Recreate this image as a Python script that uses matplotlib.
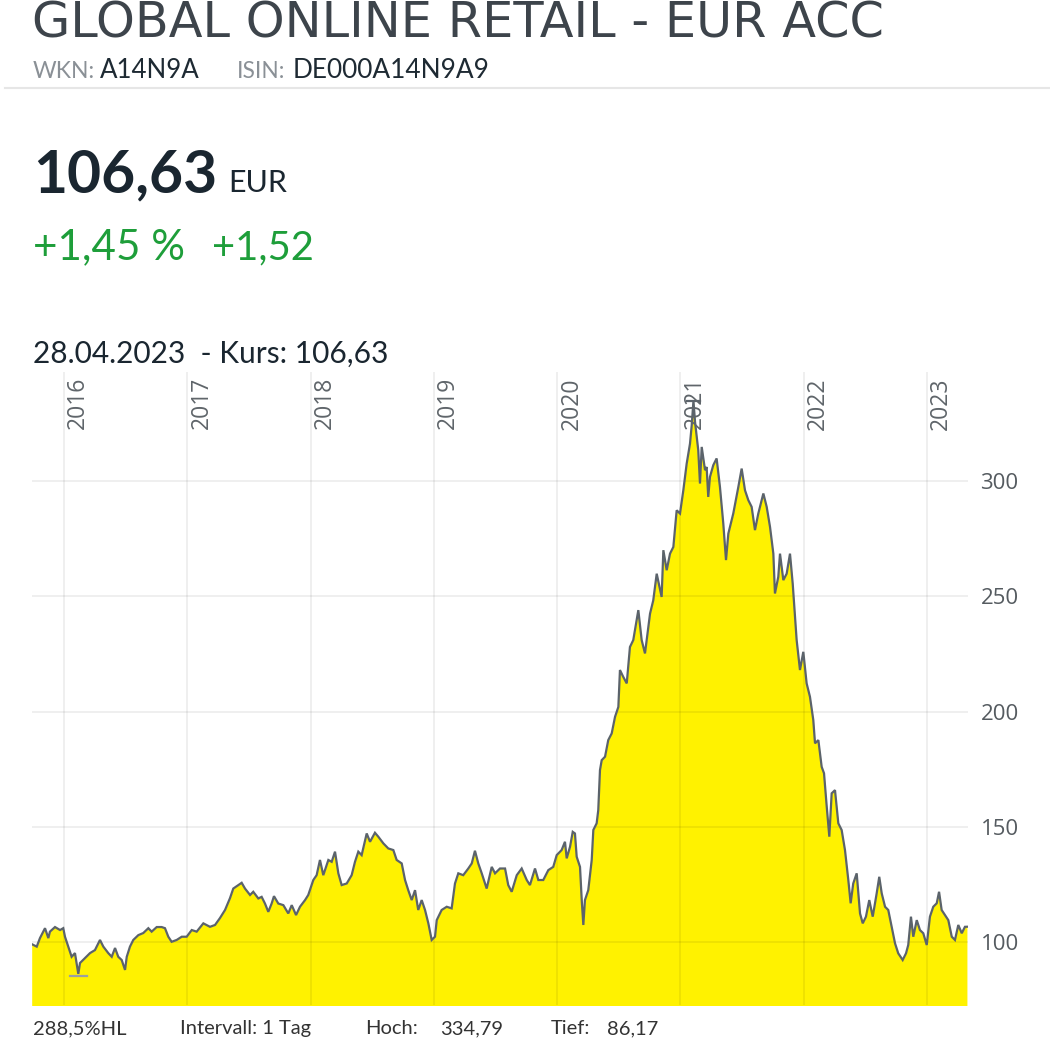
import matplotlib
matplotlib.use("Agg")
import matplotlib.pyplot as plt
from matplotlib.transforms import blended_transform_factory
import numpy as np

# ---------------- data (decimal year, price in EUR) ----------------
years = [
    2015.738, 2015.779, 2015.805, 2015.846, 2015.873, 2015.886, 2015.927, 2015.968, 2015.994,
    2016.008, 2016.035, 2016.062, 2016.089, 2016.116, 2016.130, 2016.170, 2016.211, 2016.251,
    2016.292, 2016.319, 2016.359, 2016.387, 2016.414, 2016.440, 2016.468, 2016.495, 2016.509,
    2016.535, 2016.562, 2016.603, 2016.643, 2016.684, 2016.711, 2016.752, 2016.792, 2016.819,
    2016.846, 2016.873, 2016.914, 2016.955, 2016.995, 2017.036, 2017.076, 2017.130, 2017.184,
    2017.225, 2017.265, 2017.306, 2017.346, 2017.373, 2017.414, 2017.441, 2017.468, 2017.509,
    2017.535, 2017.576, 2017.603, 2017.630, 2017.657, 2017.684, 2017.703, 2017.738, 2017.779,
    2017.819, 2017.847, 2017.882, 2017.914, 2017.955, 2017.981, 2018.022, 2018.049, 2018.076,
    2018.103, 2018.144, 2018.171, 2018.198, 2018.225, 2018.252, 2018.293, 2018.333, 2018.360,
    2018.387, 2018.414, 2018.455, 2018.482, 2018.522, 2018.549, 2018.590, 2018.630, 2018.671,
    2018.698, 2018.739, 2018.766, 2018.792, 2018.820, 2018.847, 2018.873, 2018.901, 2018.928,
    2018.955, 2018.982, 2019.009, 2019.023, 2019.063, 2019.104, 2019.144, 2019.171, 2019.198,
    2019.238, 2019.279, 2019.307, 2019.333, 2019.360, 2019.388, 2019.428, 2019.469, 2019.496,
    2019.536, 2019.577, 2019.603, 2019.631, 2019.672, 2019.712, 2019.753, 2019.779, 2019.820,
    2019.847, 2019.887, 2019.928, 2019.968, 2019.996, 2020.036, 2020.063, 2020.077, 2020.104,
    2020.126, 2020.144, 2020.158, 2020.185, 2020.199, 2020.212, 2020.225, 2020.252, 2020.280,
    2020.293, 2020.320, 2020.333, 2020.347, 2020.361, 2020.388, 2020.414, 2020.442, 2020.469,
    2020.496, 2020.509, 2020.536, 2020.564, 2020.590, 2020.617, 2020.658, 2020.685, 2020.712,
    2020.753, 2020.779, 2020.807, 2020.847, 2020.861, 2020.888, 2020.915, 2020.942, 2020.969,
    2020.996, 2021.023, 2021.050, 2021.077, 2021.091, 2021.105, 2021.118, 2021.144, 2021.158,
    2021.172, 2021.199, 2021.212, 2021.225, 2021.239, 2021.266, 2021.293, 2021.320, 2021.347,
    2021.369, 2021.388, 2021.428, 2021.469, 2021.496, 2021.523, 2021.550, 2021.577, 2021.604,
    2021.631, 2021.672, 2021.699, 2021.726, 2021.753, 2021.766, 2021.793, 2021.807, 2021.834,
    2021.861, 2021.888, 2021.910, 2021.929, 2021.942, 2021.969, 2021.996, 2022.023, 2022.050,
    2022.077, 2022.091, 2022.118, 2022.145, 2022.164, 2022.186, 2022.207, 2022.226, 2022.253,
    2022.280, 2022.307, 2022.334, 2022.361, 2022.380, 2022.401, 2022.429, 2022.456, 2022.478,
    2022.504, 2022.531, 2022.559, 2022.591, 2022.612, 2022.632, 2022.659, 2022.685, 2022.713,
    2022.740, 2022.766, 2022.802, 2022.829, 2022.847, 2022.869, 2022.888, 2022.916, 2022.942,
    2022.969, 2022.997, 2023.023, 2023.050, 2023.078, 2023.097, 2023.118, 2023.145, 2023.172,
    2023.200, 2023.226, 2023.253, 2023.281, 2023.307, 2023.323,
]
prices = [
    99.1, 98.0, 101.7, 106.0, 101.7, 104.5, 106.5, 105.2, 106.0,
    102.3, 98.0, 93.6, 95.2, 86.17, 90.9, 93.0, 95.2, 96.5,
    100.9, 98.0, 95.2, 93.6, 97.4, 93.6, 92.2, 87.9, 93.6,
    98.0, 100.9, 103.0, 103.9, 106.0, 104.5, 106.5, 106.5, 106.0,
    102.3, 100.1, 100.9, 102.3, 102.3, 105.2, 104.5, 108.1, 106.6,
    107.4, 110.4, 113.9, 119.0, 123.2, 124.7, 125.7, 123.2, 120.4,
    121.8, 118.9, 119.6, 116.7, 113.1, 116.7, 119.9, 116.7, 116.0,
    112.4, 116.0, 111.7, 115.3, 118.2, 120.4, 126.9, 129.0, 135.6,
    129.0, 135.6, 134.8, 139.2, 129.8, 124.7, 125.4, 129.0, 134.8,
    139.2, 137.7, 147.1, 143.5, 147.4, 145.7, 142.8, 140.6, 139.9,
    135.6, 134.1, 126.9, 122.5, 118.2, 122.5, 113.9, 118.2, 113.9,
    108.1, 100.9, 102.3, 109.5, 113.9, 115.3, 114.6, 125.4, 129.8,
    129.0, 131.9, 134.1, 139.6, 134.1, 129.8, 123.2, 132.6, 129.8,
    131.9, 131.9, 124.7, 121.8, 129.0, 131.9, 126.9, 124.7, 131.9,
    126.9, 126.9, 131.2, 132.6, 137.7, 139.9, 143.5, 136.3, 141.3,
    147.8, 147.1, 137.0, 132.6, 118.2, 107.4, 118.2, 122.5, 135.6,
    148.6, 151.5, 157.2, 174.6, 178.9, 180.4, 187.6, 190.5, 197.7,
    202.0, 218.0, 215.0, 212.2, 228.0, 231.0, 244.0, 231.0, 225.2,
    242.5, 248.2, 259.8, 249.7, 270.0, 261.3, 268.5, 271.4, 287.3,
    285.9, 296.0, 307.5, 316.2, 324.2, 334.79, 325.6, 313.4, 298.9,
    314.8, 304.7, 306.1, 293.1, 301.8, 306.9, 309.8, 297.4, 281.6,
    265.7, 277.2, 285.9, 297.4, 305.4, 296.0, 291.7, 288.8, 278.7,
    285.9, 294.6, 288.8, 280.1, 268.5, 251.2, 258.4, 268.5, 257.0,
    259.8, 268.5, 255.5, 241.0, 231.0, 218.0, 225.9, 212.2, 206.4,
    196.3, 186.2, 187.6, 176.0, 173.2, 158.7, 145.7, 164.5, 165.9,
    151.5, 148.6, 139.9, 126.9, 116.8, 125.4, 129.8, 112.4, 108.1,
    111.0, 118.2, 111.0, 121.1, 128.3, 121.1, 115.3, 113.9, 106.6,
    99.4, 95.1, 92.2, 95.1, 98.7, 111.0, 102.3, 109.5, 105.2,
    103.8, 98.7, 111.0, 115.3, 116.8, 121.8, 113.9, 111.7, 109.5,
    102.3, 100.9, 107.4, 103.8, 106.6, 106.63,
]
year_ticks = [2016, 2017, 2018, 2019, 2020, 2021, 2022, 2023]
value_ticks = [100, 150, 200, 250, 300]

title = "GLOBAL ONLINE RETAIL - EUR ACC"
wkn = "A14N9A"
isin = "DE000A14N9A9"
last_price = "106,63"
change_pct = "+1,45 %"
change_abs = "+1,52"
date_line = "28.04.2023  - Kurs: 106,63"
hl_text = "288,5%HL"
interval_text = "Intervall: 1 Tag"
high_text = "334,79"
low_text = "86,17"

# ---------------- figure ----------------
W, H = 1050, 1050
fig = plt.figure(figsize=(W / 100, H / 100), dpi=100)
fig.patch.set_facecolor("white")
renderer = fig.canvas.get_renderer()

def put(x, y, s, size, color, target_w=None, family="Lato", weight="normal", va="baseline"):
    t = fig.text(x / W, 1 - y / H, s, fontsize=size, color=color, family=family,
                 fontweight=weight, va=va, ha="left")
    if target_w:
        w = t.get_window_extent(renderer=renderer).width
        t.set_fontsize(size * target_w / w)
    return t

# header
put(32, 38, title, 30, "#3d444b", target_w=852, family="DejaVu Sans", weight="normal")
put(33, 78, "WKN:", 14, "#8a9096", target_w=62)
put(100, 78, wkn, 14, "#1e2a33", target_w=100)
put(237, 78, "ISIN:", 14, "#8a9096", target_w=48)
put(293, 78, isin, 14, "#1e2a33", target_w=198)
fig.add_artist(plt.Line2D([5 / W, 1.0], [1 - 88 / H, 1 - 88 / H], color="#e6e6e6", lw=1.5))

put(33, 192, last_price, 40, "#1a2630", target_w=184, weight="bold")
put(228, 192, "EUR", 18, "#1a2630", target_w=59)
put(33, 259, change_pct, 26, "#1e9e3a", target_w=152)
put(212, 259, change_abs, 26, "#1e9e3a", target_w=102)

put(33, 363, date_line, 17, "#1a2630", target_w=357)

# bottom stats
bs = 14.5
put(33, 1034, hl_text, bs, "#333333")
put(180, 1034, interval_text, bs, "#333333")
put(365, 1034, "Hoch:", bs, "#333333")
put(440, 1034, high_text, bs, "#333333")
put(551, 1034, "Tief:", bs, "#333333")
put(607, 1034, low_text, bs, "#333333")

# ---------------- chart ----------------
x0, x1, ytop, ybot = 32, 968, 372, 1005
ax = fig.add_axes([x0 / W, 1 - ybot / H, (x1 - x0) / W, (ybot - ytop) / H])
ax.set_facecolor("white")
ax.set_xlim(2015.7405, 2023.3317)
ax.set_ylim(72.68, 347.3)

ax.fill_between(years, prices, 0, color="#fff200", lw=0, zorder=1)
ax.plot(years, prices, color="#5b636b", lw=1.6, zorder=3, solid_joinstyle="miter")

# faint gridlines drawn over the fill
for yr in year_ticks:
    ax.axvline(yr, color="black", alpha=0.07, lw=1.3, zorder=2)
for v in value_ticks:
    ax.axhline(v, color="black", alpha=0.07, lw=1.3, zorder=2)

# high / low markers
imin = int(np.argmin(prices))
imax = int(np.argmax(prices))
ax.plot([years[imin] - 0.07, years[imin] + 0.07], [prices[imin] - 0.8] * 2,
        color="#9a9fa4", lw=1.6, zorder=4)
ax.plot([years[imax] - 0.05, years[imax] + 0.05], [prices[imax]] * 2,
        color="#5b636b", lw=1.6, zorder=4)

for s in ax.spines.values():
    s.set_visible(False)
ax.set_xticks([])
ax.yaxis.tick_right()
ax.set_yticks(value_ticks)
ax.set_yticklabels([str(v) for v in value_ticks], family="Open Sans", fontsize=16, color="#555b60")
ax.tick_params(axis="y", length=0, pad=9)

trans = blended_transform_factory(ax.transData, ax.transAxes)
for yr in year_ticks:
    ax.text(yr + 0.115, 1 - 5 / (ybot - ytop), str(yr), rotation=90, ha="center", va="top",
            transform=trans, family="Open Sans", fontsize=16.5, color="#5f656a", zorder=5)

fig.savefig("out.png", dpi=100, facecolor="white")
